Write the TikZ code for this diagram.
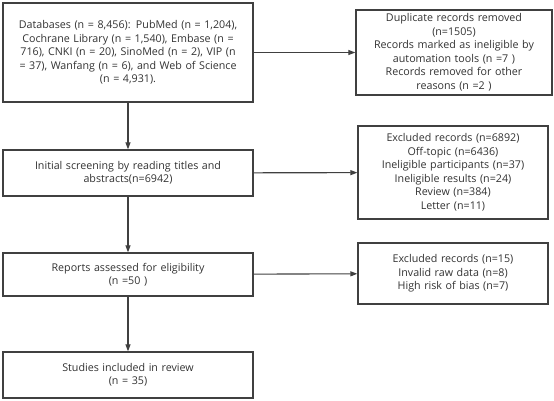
\documentclass[tikz,border=0pt]{standalone}
\usepackage{fontspec}
\setmainfont{Open Sans}
\usetikzlibrary{positioning}
\usetikzlibrary{arrows.meta}
\definecolor{pag}{HTML}{404040}
\definecolor{txt}{HTML}{333333}

\begin{document}
\begin{tikzpicture}[x=1pt,y=-1pt,
	box/.style={draw=pag,line width=1.3pt,fill=white,align=center,inner sep=2pt,text=txt,font=\fontsize{10.7}{13.5}\selectfont},
	flow/.style={draw=pag,line width=1.1pt,-{Triangle[length=7pt,width=5pt]}}]
		\useasboundingbox (0,0) rectangle (554,400);
		% main column
		\node[box,minimum width=250pt,minimum height=99pt,text width=244pt] (db) at (128,52.5)
		{Databases (n = 8,456): PubMed (n = 1,204),\\ Cochrane Library (n = 1,540), Embase (n =\\ 716), CNKI (n = 20), SinoMed (n = 2), VIP (n\\ = 37), Wanfang (n = 6), and Web of Science\\ (n = 4,931).};
		\node[box,minimum width=250pt,minimum height=46pt,text width=244pt] (screen) at (128,173)
		{Initial screening by reading titles and\\ abstracts(n=6942)};
		\node[box,minimum width=250pt,minimum height=43pt,text width=244pt] (elig) at (128,274.5)
		{Reports assessed for eligibility\\ (n =50 )};
		\node[box,minimum width=250pt,minimum height=46pt,text width=244pt] (incl) at (128,375)
		{Studies included in review\\ (n = 35)};
		% right column
		\node[box,minimum width=196pt,minimum height=85pt,text width=190pt] (dup) at (454,52.5)
		{Duplicate records removed\\ (n=1505)\\ Records marked as ineligible by\\ automation tools (n =7 )\\ Records removed for other\\ reasons (n =2 )};
		\node[box,minimum width=190pt,minimum height=93pt,text width=184pt] (excl1) at (453,172.5)
		{Excluded records (n=6892)\\ Off-topic (n=6436)\\ Ineligible participants (n=37)\\ Ineligible results (n=24)\\ Review (n=384)\\ Letter (n=11)};
		\node[box,minimum width=190pt,minimum height=61pt,text width=184pt] (excl2) at (453,273.5)
		{Excluded records (n=15)\\ Invalid raw data (n=8)\\ High risk of bias (n=7)};
		% arrows
		\draw[flow] (db) -- (screen);
		\draw[flow] (screen) -- (elig);
		\draw[flow] (elig) -- (incl);
		\draw[flow] (db) -- (dup);
		\draw[flow] (screen) -- (excl1);
		\draw[flow] (elig) -- (excl2);
	\end{tikzpicture}
\end{document}
